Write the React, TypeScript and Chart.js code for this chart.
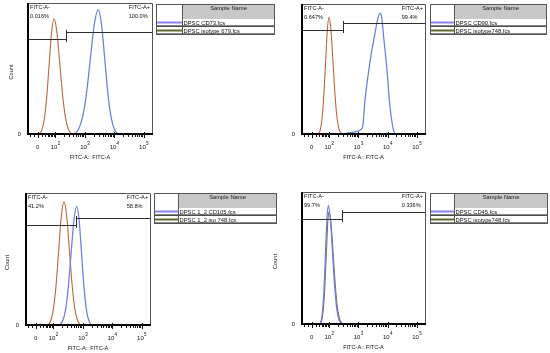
import React, { useEffect, useRef } from "react";
import { Chart, registerables } from "chart.js";
Chart.register(...registerables);

// ---------------- data (x in logicle display units, y = % of mode) ----------------
const xMin = 1.037;
const xMax = 5.317;
const xTickValues = [1.401, 2, 3, 4, 5];
const xTickBase = ["0", "10", "10", "10", "10"];
const xTickExp = ["", "2", "3", "4", "5"];
const xMinorTicks = [
  1.15, 1.27, 1.55, 1.66, 1.74, 1.8, 1.85, 1.9, 1.95,
  2.301, 2.477, 2.602, 2.699, 2.778, 2.845, 2.903, 2.954,
  3.301, 3.477, 3.602, 3.699, 3.778, 3.845, 3.903, 3.954,
  4.301, 4.477, 4.602, 4.699, 4.778, 4.845, 4.903, 4.954,
];

// Panel 1: CD73
const cd73X = [2.55, 2.648, 2.783, 2.918, 3.053, 3.188, 3.323, 3.458, 3.568, 3.678, 3.788, 3.898, 4.008, 4.118, 4.2];
const cd73Y = [0, 1.1, 4.2, 12.9, 30.8, 57.6, 83.8, 95, 83.8, 57.6, 30.8, 12.9, 4.2, 1.1, 0];
const iso679X = [1.38, 1.459, 1.542, 1.624, 1.706, 1.789, 1.872, 1.954, 2.054, 2.154, 2.254, 2.354, 2.454, 2.554, 2.65];
const iso679Y = [0, 1.0, 3.9, 11.9, 28.6, 53.4, 77.7, 88, 77.7, 53.4, 28.6, 11.9, 3.9, 1.0, 0];

// Panel 2: CD90
const cd90X = [2.1, 2.5, 2.8, 3.0, 3.1, 3.15, 3.229, 3.342, 3.45, 3.571, 3.66, 3.743, 3.8, 3.855, 3.993, 4.061, 4.177, 4.26];
const cd90Y = [0, 1, 2, 3, 4.5, 6.4, 26.7, 46.8, 63, 77.6, 88, 93, 90, 77.6, 46.8, 26.7, 6.4, 0];
const iso748aX = [1.56, 1.636, 1.696, 1.756, 1.816, 1.876, 1.936, 1.996, 2.066, 2.136, 2.206, 2.276, 2.346, 2.416, 2.486, 2.56];
const iso748aY = [0, 1.0, 4.0, 12.2, 29.2, 54.6, 79.4, 90, 79.4, 54.6, 29.2, 12.2, 4.0, 1.0, 0.2, 0];

// Panel 3: CD105
const cd105X = [2.14, 2.223, 2.318, 2.413, 2.508, 2.603, 2.698, 2.793, 2.876, 2.958, 3.041, 3.123, 3.206, 3.288, 3.37];
const cd105Y = [0, 1.0, 4.0, 12.2, 29.2, 54.6, 79.4, 90, 79.4, 54.6, 29.2, 12.2, 4.0, 1.0, 0];
const iso748bX = [1.74, 1.821, 1.911, 2.001, 2.091, 2.181, 2.271, 2.361, 2.454, 2.546, 2.639, 2.731, 2.824, 2.916, 3.0];
const iso748bY = [0, 1.0, 4.1, 12.7, 30.4, 56.7, 82.5, 93.5, 82.5, 56.7, 30.4, 12.7, 4.1, 1.0, 0];

// Panel 4: CD45
const cd45X = [1.62, 1.687, 1.735, 1.782, 1.83, 1.877, 1.925, 1.972, 2.045, 2.117, 2.19, 2.262, 2.335, 2.407, 2.48, 2.56];
const cd45Y = [0, 1.0, 4.0, 12.2, 29.2, 54.6, 79.4, 90, 79.4, 54.6, 29.2, 12.2, 4.0, 1.5, 0.5, 0];
const iso748cX = [1.64, 1.70, 1.75, 1.80, 1.85, 1.90, 1.948, 1.99, 2.065, 2.14, 2.215, 2.29, 2.365, 2.44, 2.515, 2.6];
const iso748cY = [0, 1.0, 3.8, 11.5, 27.5, 51.5, 75, 85, 76, 53, 28.8, 12.2, 4.2, 1.4, 0.4, 0];

// Gates
const gateBoundary = [2.361, 2.465, 2.769, 2.43];
const negGateLevel = [72.7, 80.2, 75.6, 79.7];
const posGateLevel = [78, 85.3, 81.1, 85];
const negGateName = "FITC-A-";
const posGateName = "FITC-A+";
const negPct = ["0.016%", "0.647%", "41.2%", "99.7%"];
const posPct = ["100.0%", "99.4%", "58.8%", "0.336%"];

// Legend text
const sampleNames = ["DPSC CD73.fcs", "DPSC CD90.fcs", "DPSC 1_2 CD105.fcs", "DPSC CD45.fcs"];
const isotypeNames = ["DPSC isotype 679.fcs", "DPSC isotype748.fcs", "DPSC 1_2 iso 748.fcs", "DPSC isotype748.fcs"];
const legendHeader = "Sample Name";
const xTitle = "FITC-A:: FITC-A";
const yTitle = "Count";
const yZero = "0";

// ---------------- layout / style ----------------
const W = 550;
const H = 353;
const FONT = '"Liberation Sans", Arial, sans-serif';
const SAMPLE_COLOR = "#6b7fdf";
const ISO_COLOR = "#b8673f";
const ISO_COLOR_4 = "#8a6a4a";
const SWATCH_SAMPLE = "#8a80ee";
const SWATCH_ISO = "#5f6a2c";

const PANELS = [
  { box: { l: 27, t: 3, r: 153, b: 135 }, legend: { x: 156, y: 4, w: 119, h: 31, c: 26, hh: 15 }, countX: 11 },
  { box: { l: 301, t: 4, r: 426, b: 135 }, legend: { x: 430, y: 4, w: 117, h: 31, c: 24, hh: 15 }, countX: null },
  { box: { l: 25, t: 193, r: 151, b: 326 }, legend: { x: 154, y: 193, w: 123, h: 31, c: 24, hh: 15 }, countX: 7 },
  { box: { l: 301, t: 192, r: 426, b: 325 }, legend: { x: 430, y: 193, w: 118, h: 31, c: 24, hh: 15 }, countX: 275 },
];

const SERIES = [
  { sx: cd73X, sy: cd73Y, ix: iso679X, iy: iso679Y, isoColor: ISO_COLOR },
  { sx: cd90X, sy: cd90Y, ix: iso748aX, iy: iso748aY, isoColor: ISO_COLOR },
  { sx: cd105X, sy: cd105Y, ix: iso748bX, iy: iso748bY, isoColor: ISO_COLOR },
  { sx: cd45X, sy: cd45Y, ix: iso748cX, iy: iso748cY, isoColor: ISO_COLOR_4 },
];

function toPoints(xs: number[], ys: number[]) {
  return xs.map((x, i) => ({ x, y: ys[i] }));
}

function drawLegend(ctx: CanvasRenderingContext2D, idx: number) {
  const L = PANELS[idx].legend;
  const rowH = (L.h - L.hh) / 2;
  ctx.save();
  ctx.fillStyle = "#ffffff";
  ctx.fillRect(L.x, L.y, L.w, L.h);
  ctx.fillStyle = "#c8c8c8";
  ctx.fillRect(L.x + L.c, L.y, L.w - L.c, L.hh);
  ctx.font = `5.8px ${FONT}`;
  ctx.fillStyle = "#1a1a1a";
  ctx.textAlign = "center";
  ctx.textBaseline = "alphabetic";
  ctx.fillText(legendHeader, L.x + L.c + (L.w - L.c) / 2, L.y + 5.8);
  const names = [sampleNames[idx], isotypeNames[idx]];
  const swatches = [SWATCH_SAMPLE, SWATCH_ISO];
  for (let r = 0; r < 2; r++) {
    const rt = L.y + L.hh + r * rowH;
    ctx.strokeStyle = swatches[r];
    ctx.lineWidth = 2;
    ctx.beginPath();
    ctx.moveTo(L.x + 1, rt + 3.5);
    ctx.lineTo(L.x + L.c, rt + 3.5);
    ctx.stroke();
    ctx.strokeStyle = "#111";
    ctx.lineWidth = 1.2;
    ctx.beginPath();
    ctx.moveTo(L.x + 1, rt + rowH - 0.8);
    ctx.lineTo(L.x + L.w - 1, rt + rowH - 0.8);
    ctx.stroke();
    ctx.fillStyle = "#111";
    ctx.textAlign = "left";
    ctx.fillText(names[r], L.x + L.c + 1.5, rt + rowH - 2);
  }
  ctx.strokeStyle = "#555";
  ctx.lineWidth = 1;
  ctx.beginPath();
  ctx.moveTo(L.x + L.c + 0.5, L.y);
  ctx.lineTo(L.x + L.c + 0.5, L.y + L.h);
  ctx.stroke();
  ctx.strokeRect(L.x + 0.5, L.y + 0.5, L.w - 1, L.h - 1);
  ctx.restore();
}

function decorPlugin(idx: number) {
  return {
    id: "flowDecor",
    afterDatasetsDraw(chart: any) {
      const ctx: CanvasRenderingContext2D = chart.ctx;
      const xs = chart.scales.x;
      const ys = chart.scales.y;
      const { left, right, top, bottom } = chart.chartArea;
      const P = PANELS[idx];
      ctx.save();
      // gates
      const bx = Math.round(xs.getPixelForValue(gateBoundary[idx])) + 0.5;
      const ny = Math.round(ys.getPixelForValue(negGateLevel[idx])) + 0.5;
      const py = Math.round(ys.getPixelForValue(posGateLevel[idx])) + 0.5;
      ctx.strokeStyle = "#2e2e2e";
      ctx.lineWidth = 1;
      ctx.beginPath();
      ctx.moveTo(left, ny);
      ctx.lineTo(bx, ny);
      ctx.moveTo(bx, py);
      ctx.lineTo(right, py);
      ctx.moveTo(bx, py - 2.5);
      ctx.lineTo(bx, ny + 2.5);
      ctx.stroke();
      // frame
      ctx.strokeStyle = "#555";
      ctx.lineWidth = 1;
      ctx.beginPath();
      ctx.moveTo(left, top + 0.5);
      ctx.lineTo(right - 0.5, top + 0.5);
      ctx.lineTo(right - 0.5, bottom);
      ctx.stroke();
      ctx.strokeStyle = "#000";
      ctx.lineWidth = 2;
      ctx.beginPath();
      ctx.moveTo(left + 1, top);
      ctx.lineTo(left + 1, bottom - 1);
      ctx.lineTo(right, bottom - 1);
      ctx.stroke();
      // ticks
      ctx.lineWidth = 1;
      ctx.strokeStyle = "#111";
      ctx.beginPath();
      for (const v of xMinorTicks) {
        const x = Math.round(xs.getPixelForValue(v)) + 0.5;
        ctx.moveTo(x, bottom - 2);
        ctx.lineTo(x, bottom + 2);
      }
      for (const v of xTickValues) {
        const x = Math.round(xs.getPixelForValue(v)) + 0.5;
        ctx.moveTo(x, bottom - 3);
        ctx.lineTo(x, bottom + 3);
      }
      ctx.stroke();
      // tick labels
      ctx.fillStyle = "#111";
      ctx.textBaseline = "alphabetic";
      ctx.textAlign = "left";
      xTickValues.forEach((v, i) => {
        const x = xs.getPixelForValue(v);
        ctx.font = `6px ${FONT}`;
        const w1 = ctx.measureText(xTickBase[i]).width;
        ctx.font = `4.5px ${FONT}`;
        const w2 = xTickExp[i] ? ctx.measureText(xTickExp[i]).width : 0;
        const sx = x - (w1 + w2) / 2;
        ctx.font = `6px ${FONT}`;
        ctx.fillText(xTickBase[i], sx, bottom + 13.5);
        if (xTickExp[i]) {
          ctx.font = `4.5px ${FONT}`;
          ctx.fillText(xTickExp[i], sx + w1 + 0.3, bottom + 9.5);
        }
      });
      // axis titles
      ctx.font = `5.6px ${FONT}`;
      ctx.textAlign = "center";
      ctx.fillText(xTitle, (left + right) / 2, bottom + 23.5);
      ctx.textAlign = "right";
      ctx.font = `5.8px ${FONT}`;
      ctx.fillText(yZero, left - 6, bottom + 0.5);
      if (P.countX !== null) {
        ctx.save();
        ctx.translate(P.countX, (top + bottom) / 2 + 3);
        ctx.rotate(-Math.PI / 2);
        ctx.textAlign = "center";
        ctx.textBaseline = "middle";
        ctx.font = `5.6px ${FONT}`;
        ctx.fillText(yTitle, 0, 0);
        ctx.restore();
      }
      // gate labels
      ctx.font = `5.6px ${FONT}`;
      ctx.textAlign = "left";
      ctx.textBaseline = "alphabetic";
      ctx.fillText(negGateName, left + 3, top + 6);
      ctx.fillText(negPct[idx], left + 3, top + 15);
      const wp = ctx.measureText(posGateName).width;
      const tx = right - 3 - wp;
      ctx.fillText(posGateName, tx, top + 6);
      ctx.fillText(posPct[idx], tx, top + 15);
      ctx.restore();
      drawLegend(ctx, idx);
    },
  };
}

function Panel({ idx }: { idx: number }) {
  const ref = useRef<HTMLCanvasElement>(null);
  useEffect(() => {
    const P = PANELS[idx];
    const S = SERIES[idx];
    const chart = new Chart(ref.current as HTMLCanvasElement, {
      type: "line",
      data: {
        datasets: [
          {
            data: toPoints(S.sx, S.sy),
            borderColor: SAMPLE_COLOR,
            borderWidth: 1.25,
            pointRadius: 0,
            cubicInterpolationMode: "monotone",
            fill: false,
          },
          {
            data: toPoints(S.ix, S.iy),
            borderColor: S.isoColor,
            borderWidth: 1.1,
            pointRadius: 0,
            cubicInterpolationMode: "monotone",
            fill: false,
          },
        ],
      },
      options: {
        animation: false,
        responsive: false,
        maintainAspectRatio: false,
        devicePixelRatio: 1,
        events: [],
        layout: {
          padding: { left: P.box.l, top: P.box.t, right: W - P.box.r, bottom: H - P.box.b },
        },
        scales: {
          x: { type: "linear", min: xMin, max: xMax, display: false },
          y: { type: "linear", min: 0, max: 100, display: false },
        },
        plugins: { legend: { display: false }, tooltip: { enabled: false } },
      },
      plugins: [decorPlugin(idx)],
    } as any);
    return () => chart.destroy();
  }, [idx]);
  return (
    <canvas
      ref={ref}
      width={W}
      height={H}
      style={{ position: "absolute", left: 0, top: 0, width: W, height: H }}
    />
  );
}

export default function App() {
  return (
    <div style={{ position: "absolute", left: 0, top: 0, width: W, height: H, background: "#fff", overflow: "hidden" }}>
      {[0, 1, 2, 3].map((i) => (
        <Panel key={i} idx={i} />
      ))}
    </div>
  );
}
